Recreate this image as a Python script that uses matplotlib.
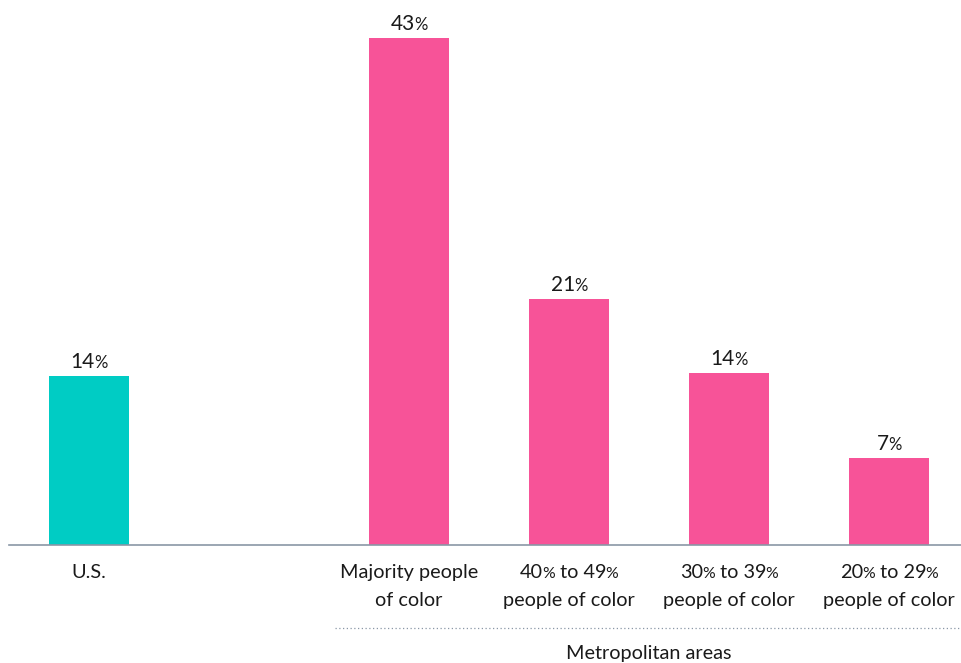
import matplotlib
matplotlib.use("Agg")
import matplotlib.pyplot as plt
from matplotlib.transforms import blended_transform_factory, offset_copy

plt.rcParams['font.family'] = 'Lato'

# data (bar heights, labels as printed)
positions = [0, 2, 3, 4, 5]
heights = [14.3, 43.0, 20.9, 14.6, 7.4]
value_labels = ["14", "43", "21", "14", "7"]
colors = ["#00CCC4", "#F75398", "#F75398", "#F75398", "#F75398"]
labels = [
    [["U.S."]],
    [["Majority people"], ["of color"]],
    [["40", "%", " to 49", "%"], ["people of color"]],
    [["30", "%", " to 39", "%"], ["people of color"]],
    [["20", "%", " to 29", "%"], ["people of color"]],
]
group_label = "Metropolitan areas"

W, H = 961, 663
fig = plt.figure(figsize=(W / 100, H / 100), dpi=100)
ax = fig.add_axes([9 / W, 1 - 545 / H, 1 - 9 / W, (545 - 20) / H])
ax.bar(positions, heights, width=0.5, color=colors)
ax.set_xlim(-0.5, 5.45)
ax.set_ylim(0, 43 * 525 / 506.7)
for s in ["top", "right", "left"]:
    ax.spines[s].set_visible(False)
ax.spines["bottom"].set_color("#8A97A6")
ax.spines["bottom"].set_linewidth(1.2)
ax.set_xticks([])
ax.set_yticks([])

fig.canvas.draw()
renderer = fig.canvas.get_renderer()
BIG, SMALL = 14.3, 11.3


def rich(x, y, segs, trans, big=BIG, small=SMALL):
    # even idx -> big text, odd idx -> small "%" sign
    texts = []
    for i, s in enumerate(segs):
        size = big if i % 2 == 0 else small
        t = fig.text(x, y, s, fontsize=size, color="#1a1a1a", ha="left",
                     va="baseline", transform=trans)
        texts.append(t)
    widths = [t.get_window_extent(renderer).width for t in texts]
    widths = [w - 1 if i % 2 == 0 and len(segs) > 1 else w for i, w in enumerate(widths)]
    total = sum(widths)
    dx = -total / 2
    for t, w in zip(texts, widths):
        t.set_transform(offset_copy(trans, fig, x=dx, y=0, units="dots"))
        dx += w


for p, h, lab in zip(positions, heights, value_labels):
    rich(p, h, [lab, "%"], offset_copy(ax.transData, fig, x=0, y=8, units="dots"),
         big=15, small=12)

tr_lab = blended_transform_factory(ax.transData, fig.transFigure)
for p, lines in zip(positions, labels):
    for j, segs in enumerate(lines):
        ypix = 578 + j * 28
        rich(p, 1 - ypix / H, segs, tr_lab)

fig.add_artist(plt.Line2D([335 / W, 1], [1 - 628 / H] * 2, transform=fig.transFigure,
                          color="#8A97A6", linestyle=(0, (1, 2)), linewidth=0.9))
fig.text(649 / W, 1 - 659 / H, group_label, fontsize=BIG, color="#1a1a1a",
         ha="center", va="baseline")

fig.savefig("out.png", dpi=100)
